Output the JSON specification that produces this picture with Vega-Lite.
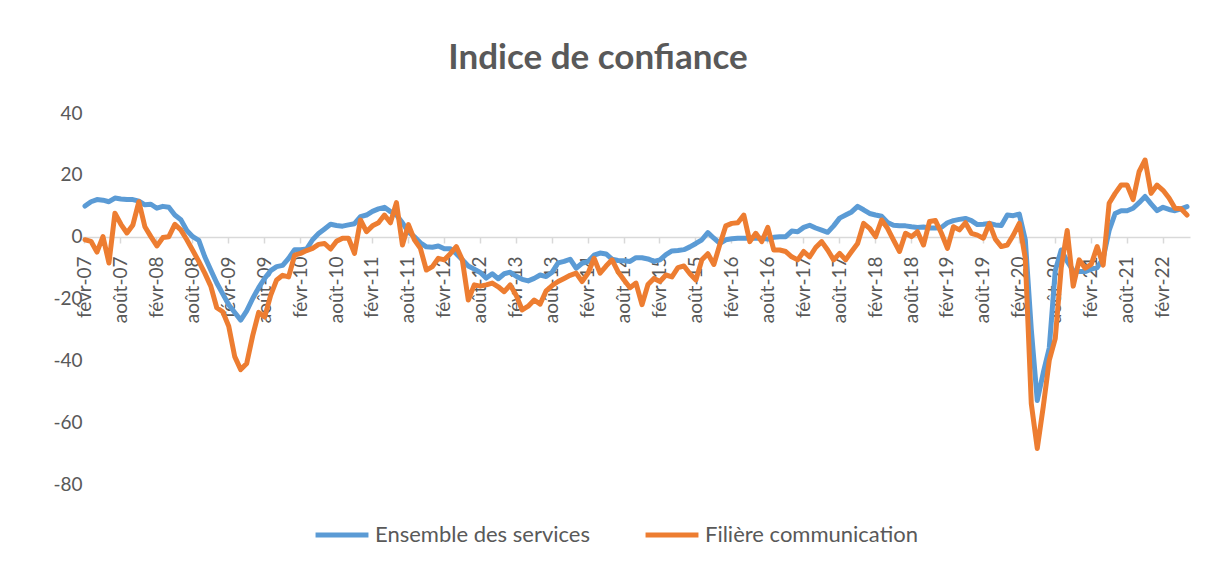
{
  "$schema": "https://vega.github.io/schema/vega-lite/v6.json",
  "width": 1108,
  "height": 371,
  "autosize": "none",
  "padding": {"left": 82, "top": 113, "right": 18, "bottom": 81},
  "background": "white",
  "title": {"text": "Indice de confiance", "font": "Lato", "fontSize": 35, "fontWeight": "bold", "color": "#595959", "anchor": "middle", "dx": -38, "offset": 28},
  "data": {"values": [
    {"m":"févr-07","services":9.9,"communication":-1},
    {"m":"mars-07","services":11.3,"communication":-1.5},
    {"m":"avr-07","services":12,"communication":-5},
    {"m":"mai-07","services":11.8,"communication":0},
    {"m":"juin-07","services":11.3,"communication":-8.5},
    {"m":"juil-07","services":12.5,"communication":7.6},
    {"m":"août-07","services":12.2,"communication":4},
    {"m":"sept-07","services":12,"communication":1.2},
    {"m":"oct-07","services":12,"communication":3.8},
    {"m":"nov-07","services":11.5,"communication":11.3},
    {"m":"déc-07","services":10.3,"communication":3.2},
    {"m":"janv-08","services":10.5,"communication":0},
    {"m":"févr-08","services":9.2,"communication":-3},
    {"m":"mars-08","services":9.8,"communication":-0.3},
    {"m":"avr-08","services":9.5,"communication":0},
    {"m":"mai-08","services":7,"communication":4},
    {"m":"juin-08","services":5.5,"communication":2.2},
    {"m":"juil-08","services":2,"communication":-1},
    {"m":"août-08","services":0,"communication":-4.5},
    {"m":"sept-08","services":-1.2,"communication":-8},
    {"m":"oct-08","services":-6.5,"communication":-11.8},
    {"m":"nov-08","services":-10.8,"communication":-16},
    {"m":"déc-08","services":-15,"communication":-23},
    {"m":"janv-09","services":-18.5,"communication":-24.3},
    {"m":"févr-09","services":-22,"communication":-29},
    {"m":"mars-09","services":-24.5,"communication":-38.8},
    {"m":"avr-09","services":-27,"communication":-43},
    {"m":"mai-09","services":-24,"communication":-41},
    {"m":"juin-09","services":-20,"communication":-32},
    {"m":"juil-09","services":-16.5,"communication":-24.5},
    {"m":"août-09","services":-13.5,"communication":-26},
    {"m":"sept-09","services":-11,"communication":-19},
    {"m":"oct-09","services":-9.7,"communication":-14},
    {"m":"nov-09","services":-9.3,"communication":-12.5},
    {"m":"déc-09","services":-7,"communication":-13},
    {"m":"janv-10","services":-4.2,"communication":-6},
    {"m":"févr-10","services":-4.2,"communication":-5.4},
    {"m":"mars-10","services":-4,"communication":-4.5},
    {"m":"avr-10","services":-1,"communication":-3.8},
    {"m":"mai-10","services":1,"communication":-2.5},
    {"m":"juin-10","services":2.5,"communication":-2.2},
    {"m":"juil-10","services":4,"communication":-4},
    {"m":"août-10","services":3.6,"communication":-1.5},
    {"m":"sept-10","services":3.4,"communication":-0.5},
    {"m":"oct-10","services":3.8,"communication":-0.5},
    {"m":"nov-10","services":4.2,"communication":-5.4},
    {"m":"déc-10","services":6.5,"communication":5.4},
    {"m":"janv-11","services":7,"communication":1.6},
    {"m":"févr-11","services":8.2,"communication":3.5},
    {"m":"mars-11","services":9,"communication":4.5},
    {"m":"avr-11","services":9.5,"communication":7},
    {"m":"mai-11","services":8.1,"communication":4.5},
    {"m":"juin-11","services":7,"communication":11},
    {"m":"juil-11","services":4.5,"communication":-2.7},
    {"m":"août-11","services":1.5,"communication":3.9},
    {"m":"sept-11","services":0,"communication":-1},
    {"m":"oct-11","services":-2,"communication":-3.8},
    {"m":"nov-11","services":-3.3,"communication":-10.8},
    {"m":"déc-11","services":-3.4,"communication":-9.7},
    {"m":"janv-12","services":-3,"communication":-7},
    {"m":"févr-12","services":-3.9,"communication":-7.5},
    {"m":"mars-12","services":-3.9,"communication":-5.5},
    {"m":"avr-12","services":-5.5,"communication":-3.2},
    {"m":"mai-12","services":-7.5,"communication":-7.5},
    {"m":"juin-12","services":-9.5,"communication":-20.5},
    {"m":"juil-12","services":-10.5,"communication":-15.6},
    {"m":"août-12","services":-11.6,"communication":-16},
    {"m":"sept-12","services":-13.4,"communication":-15.6},
    {"m":"oct-12","services":-12,"communication":-15},
    {"m":"nov-12","services":-13.6,"communication":-16.2},
    {"m":"déc-12","services":-12,"communication":-17.8},
    {"m":"janv-13","services":-11.5,"communication":-15.6},
    {"m":"févr-13","services":-12.8,"communication":-19},
    {"m":"mars-13","services":-13.8,"communication":-23.7},
    {"m":"avr-13","services":-14.3,"communication":-22.5},
    {"m":"mai-13","services":-13.5,"communication":-20.5},
    {"m":"juin-13","services":-12.4,"communication":-21.8},
    {"m":"juil-13","services":-12.9,"communication":-17.5},
    {"m":"août-13","services":-11.5,"communication":-15.8},
    {"m":"sept-13","services":-8.5,"communication":-14.5},
    {"m":"oct-13","services":-8,"communication":-13.5},
    {"m":"nov-13","services":-7.3,"communication":-12.5},
    {"m":"déc-13","services":-10.2,"communication":-11.8},
    {"m":"janv-14","services":-8.6,"communication":-14.5},
    {"m":"févr-14","services":-8,"communication":-11.8},
    {"m":"mars-14","services":-6,"communication":-7},
    {"m":"avr-14","services":-5.3,"communication":-11.8},
    {"m":"mai-14","services":-5.6,"communication":-9.5},
    {"m":"juin-14","services":-7.3,"communication":-7.5},
    {"m":"juil-14","services":-7.7,"communication":-11.3},
    {"m":"août-14","services":-7.8,"communication":-14},
    {"m":"sept-14","services":-8,"communication":-16.5},
    {"m":"oct-14","services":-6.8,"communication":-15},
    {"m":"nov-14","services":-6.8,"communication":-22},
    {"m":"déc-14","services":-7.2,"communication":-15.5},
    {"m":"janv-15","services":-8,"communication":-13.5},
    {"m":"févr-15","services":-7.5,"communication":-14.5},
    {"m":"mars-15","services":-5.8,"communication":-12.4},
    {"m":"avr-15","services":-4.6,"communication":-13},
    {"m":"mai-15","services":-4.5,"communication":-10},
    {"m":"juin-15","services":-4.2,"communication":-9.5},
    {"m":"juil-15","services":-3.3,"communication":-12},
    {"m":"août-15","services":-2.2,"communication":-14},
    {"m":"sept-15","services":-1,"communication":-7.5},
    {"m":"oct-15","services":1.3,"communication":-5.5},
    {"m":"nov-15","services":-0.5,"communication":-9},
    {"m":"déc-15","services":-2.2,"communication":-2.5},
    {"m":"janv-16","services":-1,"communication":3.5},
    {"m":"févr-16","services":-0.7,"communication":4.3},
    {"m":"mars-16","services":-0.5,"communication":4.5},
    {"m":"avr-16","services":-0.5,"communication":7},
    {"m":"mai-16","services":-0.5,"communication":-1.6},
    {"m":"juin-16","services":-0.5,"communication":1.1},
    {"m":"juil-16","services":-0.5,"communication":-1.6},
    {"m":"août-16","services":-0.8,"communication":3},
    {"m":"sept-16","services":-0.2,"communication":-4.3},
    {"m":"oct-16","services":0,"communication":-4.3},
    {"m":"nov-16","services":0,"communication":-4.8},
    {"m":"déc-16","services":1.8,"communication":-6.5},
    {"m":"janv-17","services":1.6,"communication":-7.5},
    {"m":"févr-17","services":3,"communication":-4.8},
    {"m":"mars-17","services":3.7,"communication":-6.5},
    {"m":"avr-17","services":2.8,"communication":-3.5},
    {"m":"mai-17","services":2.1,"communication":-1.6},
    {"m":"juin-17","services":1.4,"communication":-4.3},
    {"m":"juil-17","services":3.5,"communication":-7.5},
    {"m":"août-17","services":6,"communication":-5.4},
    {"m":"sept-17","services":7,"communication":-7.5},
    {"m":"oct-17","services":8,"communication":-4.8},
    {"m":"nov-17","services":9.8,"communication":-2.2},
    {"m":"déc-17","services":8.7,"communication":4.3},
    {"m":"janv-18","services":7.5,"communication":2.7},
    {"m":"févr-18","services":7,"communication":0},
    {"m":"mars-18","services":6.6,"communication":5.4},
    {"m":"avr-18","services":4.6,"communication":2.7},
    {"m":"mai-18","services":3.7,"communication":-1.1},
    {"m":"juin-18","services":3.5,"communication":-4.8},
    {"m":"juil-18","services":3.5,"communication":1.1},
    {"m":"août-18","services":3.2,"communication":0},
    {"m":"sept-18","services":3,"communication":1.6},
    {"m":"oct-18","services":3.1,"communication":-2.7},
    {"m":"nov-18","services":2.8,"communication":4.9},
    {"m":"déc-18","services":2.8,"communication":5.2},
    {"m":"janv-19","services":3,"communication":1.1},
    {"m":"févr-19","services":4.5,"communication":-3.8},
    {"m":"mars-19","services":5.2,"communication":3.2},
    {"m":"avr-19","services":5.6,"communication":2.2},
    {"m":"mai-19","services":5.9,"communication":4.5},
    {"m":"juin-19","services":5.2,"communication":1.1},
    {"m":"juil-19","services":3.9,"communication":0.5},
    {"m":"août-19","services":4,"communication":-0.5},
    {"m":"sept-19","services":4.3,"communication":4.3},
    {"m":"oct-19","services":3.8,"communication":-0.8},
    {"m":"nov-19","services":3.6,"communication":-3.2},
    {"m":"déc-19","services":7,"communication":-2.7},
    {"m":"janv-20","services":6.8,"communication":0.5},
    {"m":"févr-20","services":7.3,"communication":4.3},
    {"m":"mars-20","services":-1,"communication":-7},
    {"m":"avr-20","services":-30,"communication":-54},
    {"m":"mai-20","services":-53,"communication":-68.5},
    {"m":"juin-20","services":-44,"communication":-55},
    {"m":"juil-20","services":-36,"communication":-40},
    {"m":"août-20","services":-11,"communication":-33},
    {"m":"sept-20","services":-4.3,"communication":-10},
    {"m":"oct-20","services":-8,"communication":2},
    {"m":"nov-20","services":-11,"communication":-16},
    {"m":"déc-20","services":-11.3,"communication":-7.5},
    {"m":"janv-21","services":-11.3,"communication":-10.2},
    {"m":"févr-21","services":-10.5,"communication":-9},
    {"m":"mars-21","services":-10,"communication":-3.2},
    {"m":"avr-21","services":-7,"communication":-9.2},
    {"m":"mai-21","services":2,"communication":10.8},
    {"m":"juin-21","services":7.5,"communication":14},
    {"m":"juil-21","services":8.4,"communication":16.7},
    {"m":"août-21","services":8.4,"communication":16.7},
    {"m":"sept-21","services":9.2,"communication":12},
    {"m":"oct-21","services":11,"communication":21},
    {"m":"nov-21","services":13,"communication":24.8},
    {"m":"déc-21","services":10.6,"communication":14},
    {"m":"janv-22","services":8.4,"communication":16.7},
    {"m":"févr-22","services":9.5,"communication":15},
    {"m":"mars-22","services":8.8,"communication":12.5},
    {"m":"avr-22","services":8.4,"communication":9.2},
    {"m":"mai-22","services":9,"communication":9},
    {"m":"juin-22","services":9.7,"communication":7}
  ]},
  "transform": [{"fold": ["services", "communication"], "as": ["serie", "valeur"]}],
  "mark": {"type": "line", "strokeWidth": 5, "strokeJoin": "round", "strokeCap": "round"},
  "encoding": {
    "x": {
      "field": "m", "type": "ordinal", "sort": null, "bandPosition": 0.5,
      "scale": {"type": "band", "paddingInner": 0, "paddingOuter": 0},
      "axis": {
        "title": null,
        "values": ["févr-07","août-07","févr-08","août-08","févr-09","août-09","févr-10","août-10","févr-11","août-11","févr-12","août-12","févr-13","août-13","févr-14","août-14","févr-15","août-15","févr-16","août-16","févr-17","août-17","févr-18","août-18","févr-19","août-19","févr-20","août-20","févr-21","août-21","févr-22"],
        "labelAngle": -90, "offset": -247, "grid": false,
        "domainColor": "#d9d9d9", "domainWidth": 1.5, "tickColor": "#d9d9d9", "tickWidth": 1.5, "tickSize": 6,
        "labelFont": "Lato", "labelFontSize": 19, "labelColor": "#595959", "labelPadding": 13
      }
    },
    "y": {
      "field": "valeur", "type": "quantitative",
      "scale": {"domain": [-80, 40], "nice": false, "zero": false},
      "axis": {
        "title": null, "values": [-80, -60, -40, -20, 0, 20, 40],
        "labelExpr": "'' + datum.value",
        "domain": false, "ticks": false, "grid": false,
        "labelFont": "Lato", "labelFontSize": 19, "labelColor": "#595959", "labelPadding": 0
      }
    },
    "color": {
      "field": "serie", "type": "nominal",
      "scale": {"domain": ["services", "communication"], "range": ["#5B9BD5", "#ED7D31"]},
      "legend": {
        "orient": "none", "legendX": 231, "legendY": 393, "direction": "horizontal", "title": null,
        "symbolType": "stroke", "symbolSize": 2800, "symbolStrokeWidth": 5,
        "labelFont": "Lato", "labelFontSize": 22, "labelColor": "#595959", "labelOffset": 4, "labelLimit": 0,
        "columnPadding": 45, "padding": 0,
        "labelExpr": "datum.label == 'services' ? 'Ensemble des services' : 'Filière communication'"
      }
    }
  },
  "config": {"view": {"stroke": null}}
}
